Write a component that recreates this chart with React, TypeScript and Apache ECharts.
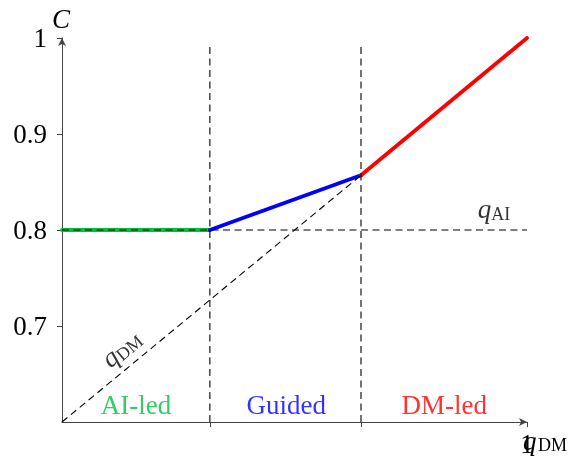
import React, { useEffect, useRef } from "react";
import * as echarts from "echarts";

// Data
const greenSeg = [[0, 0.8], [0.318, 0.8]];
const blueSeg = [[0.318, 0.8], [0.643, 0.857]];
const redSeg = [[0.643, 0.857], [1, 1]];
const qAILine = [[0, 0.8], [1, 0.8]];
const qDMLine = [[0, 0.6], [0.643, 0.857]];
const vLine1 = [[0.318, 0.6], [0.318, 0.994]];
const vLine2 = [[0.643, 0.6], [0.643, 0.994]];
const yTicks = [0.7, 0.8, 0.9, 1];
const xTicks = [0.318, 0.643, 1];
const xLabels = [1];
const regionNames = ["AI-led", "Guided", "DM-led"];
const regionPos = [[0.159, 0.6176], [0.482, 0.6176], [0.822, 0.6176]];
const regionColors = ["#00c040", "#0000ff", "#ff0000"];

const FONT = "'Liberation Serif', 'DejaVu Serif', serif";
const FS = 27;

export default function App() {
  const ref = useRef<HTMLDivElement>(null);
  useEffect(() => {
    const chart = echarts.init(ref.current!, null, { renderer: "svg" });
    const dashed = (data: number[][]) => ({
      type: "line",
      data,
      symbol: "none",
      silent: true,
      z: 4,
      lineStyle: { color: "#000", width: 1.1, type: [7, 4.5] },
    });
    const solid = (data: number[][], color: string) => ({
      type: "line",
      data,
      symbol: "none",
      silent: true,
      z: 3,
      lineStyle: { color, width: 3.8, cap: "round" },
    });
    const rich = {
      q: { fontFamily: FONT, fontStyle: "italic", fontSize: FS, color: "#000" },
      s: { fontFamily: FONT, fontSize: 18, color: "#000", padding: [10, 0, 0, 0] },
    };
    chart.setOption({
      animation: false,
      grid: { left: 62, right: 46, top: 38, bottom: 31, containLabel: false },
      xAxis: {
        type: "value",
        min: 0,
        max: 1,
        splitLine: { show: false },
        axisLine: { show: true, lineStyle: { color: "#444", width: 1 }, symbol: ["none", "arrow"], symbolSize: [6, 8] },
        axisTick: { show: true, customValues: xTicks, length: 5, lineStyle: { color: "#444" } },
        axisLabel: { show: true, customValues: xLabels, formatter: (v: number) => String(v), fontFamily: FONT, fontSize: FS, color: "#000", margin: 8 },
      },
      yAxis: {
        type: "value",
        min: 0.6,
        max: 1,
        splitLine: { show: false },
        axisLine: { show: true, lineStyle: { color: "#444", width: 1 }, symbol: ["none", "arrow"], symbolSize: [6, 8] },
        axisTick: { show: true, customValues: yTicks, length: 5, lineStyle: { color: "#444" } },
        axisLabel: {
          show: true,
          customValues: yTicks,
          formatter: (v: number) => (Math.abs(v - 1) < 1e-9 ? "1" : v.toFixed(1)),
          fontFamily: FONT,
          fontSize: FS,
          color: "#000",
          margin: 15,
        },
      },
      graphic: [
        { type: "text", left: 52, top: 5, style: { text: "C", font: `italic ${FS}px ${FONT}`, fill: "#000" } },
        { type: "text", left: 523, top: 427, style: { text: "q", font: `italic ${FS}px ${FONT}`, fill: "#000" } },
        { type: "text", left: 538, top: 436, style: { text: "DM", font: `18px ${FONT}`, fill: "#000" } },
      ],
      series: [
        dashed(qAILine),
        dashed(qDMLine),
        dashed(vLine1),
        dashed(vLine2),
        solid(greenSeg, regionColors[0]),
        solid(blueSeg, regionColors[1]),
        solid(redSeg, regionColors[2]),
        {
          type: "scatter",
          symbolSize: 0,
          silent: true,
          data: regionNames.map((n, i) => ({
            value: regionPos[i],
            label: {
              show: true,
              position: [0, 0],
              align: "center",
              verticalAlign: "middle",
              formatter: n,
              fontFamily: FONT,
              fontSize: FS,
              color: regionColors[i],
            },
          })),
        },
        {
          type: "scatter",
          symbolSize: 0,
          silent: true,
          data: [
            {
              value: [0.929, 0.8218],
              label: { show: true, position: [0, 0], align: "center", verticalAlign: "middle", formatter: "{q|q}{s|AI}", rich },
            },
            {
              value: [0.127, 0.6767],
              label: { show: true, position: [0, 0], align: "center", verticalAlign: "middle", rotate: 39.7, formatter: "{q|q}{s|DM}", rich },
            },
          ],
        },
      ],
    });
    return () => chart.dispose();
  }, []);
  return <div ref={ref} style={{ position: "fixed", left: 0, top: 0, width: 573, height: 457 }} />;
}
